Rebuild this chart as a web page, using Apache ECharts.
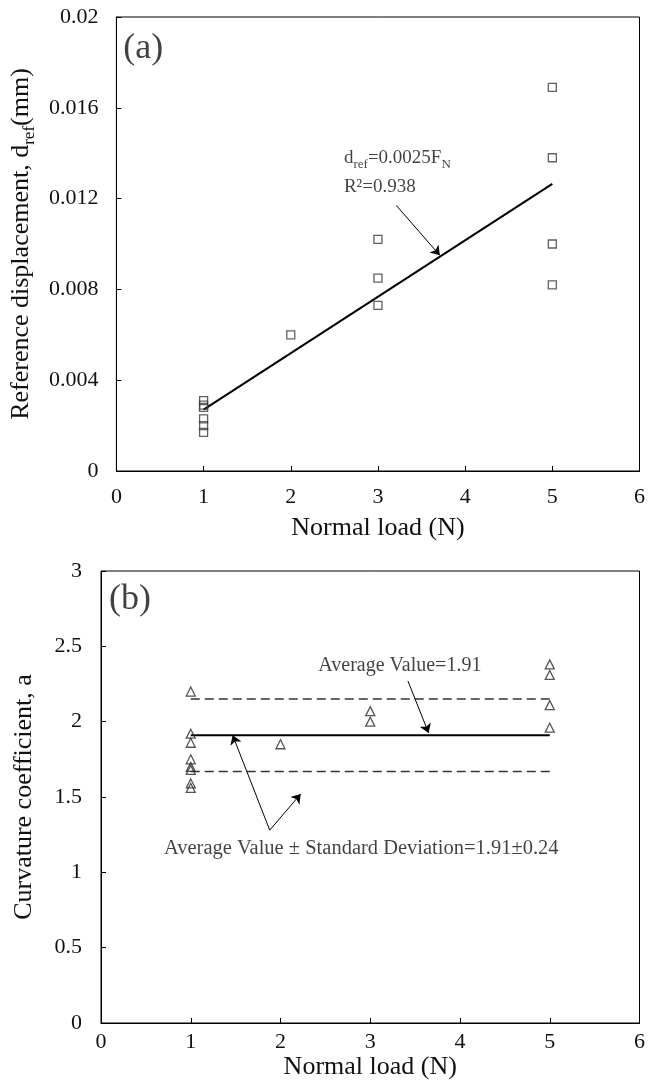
<!DOCTYPE html>
<html><head><meta charset="utf-8">
<script src="https://cdn.jsdelivr.net/npm/echarts@6/dist/echarts.min.js"></script>
<style>html,body{margin:0;padding:0;background:#fff}#c{width:648px;height:1091px}</style>
</head><body><div id="c"></div>
<script>
// ---------- Panel (a) data ----------
const loadA = [1, 1, 1, 1, 1, 1, 2, 3, 3, 3, 5, 5, 5, 5];
const dispA = [0.0031, 0.0029, 0.0028, 0.0023, 0.0020, 0.0017, 0.0060, 0.0102, 0.0085, 0.0073, 0.0169, 0.0138, 0.0100, 0.0082];
const fitLoadA = [1, 5];
const fitDispA = [0.0027, 0.01265];
const xTickLabels = ['0', '1', '2', '3', '4', '5', '6'];
const yTickLabelsA = ['0', '0.004', '0.008', '0.012', '0.016', '0.02'];
// ---------- Panel (b) data ----------
const loadB = [1, 1, 1, 1, 1, 1, 1, 1, 2, 3, 3, 5, 5, 5, 5];
const coefB = [2.20, 1.92, 1.86, 1.75, 1.70, 1.68, 1.59, 1.56, 1.85, 2.07, 2.00, 2.38, 2.31, 2.11, 1.96];
const refLoadB = [1, 5];
const avgLineB = [1.91, 1.91];
const upperLineB = [2.15, 2.15];
const lowerLineB = [1.67, 1.67];
const yTickLabelsB = ['0', '0.5', '1', '1.5', '2', '2.5', '3'];
// ---------- annotations (data units) ----------
const notesA = [
  {text: '{d|d}{s|ref}{d|=0.0025F}{s|N}', x: 2.61, y: 0.0138, pos: 'right', size: 19},
  {text: 'R²=0.938', x: 2.61, y: 0.0125, pos: 'right', size: 19},
  {text: '(a)', x: 0.08, y: 0.0186, pos: 'right', size: 36}
];
const arrowsA = [[3.21, 0.0117, 3.71, 0.0095]];
const notesB = [
  {text: 'Average Value=1.91', x: 3.33, y: 2.37, pos: 'inside', size: 20},
  {text: 'Average Value ± Standard Deviation=1.91±0.24', x: 2.9, y: 1.16, pos: 'inside', size: 20.5},
  {text: '(b)', x: 0.09, y: 2.81, pos: 'right', size: 36}
];
const arrowsB = [[3.42, 2.27, 3.65, 1.925], [1.88, 1.28, 1.467, 1.91], [1.88, 1.28, 2.225, 1.52]];

const FONT = '"Liberation Serif", "Times New Roman", serif';
const TXT = '#111';
const zip = (a, b) => a.map((v, i) => [v, b[i]]);

function xAxisCfg(gridIndex, labelMargin, nameGap) {
  return {
    gridIndex, type: 'value', min: 0, max: 6, interval: 1,
    name: 'Normal load (N)', nameLocation: 'middle', nameGap,
    nameTextStyle: {fontFamily: FONT, fontSize: 26, color: TXT, lineHeight: 26},
    axisLine: {show: true, lineStyle: {color: '#000', width: 1}},
    axisTick: {show: true, inside: true, length: 5, lineStyle: {color: '#000'}},
    axisLabel: {fontFamily: FONT, fontSize: 22, color: TXT, margin: labelMargin, lineHeight: 22,
      formatter: v => xTickLabels[Math.round(v)]},
    splitLine: {show: false}
  };
}

function notesSeries(xi, yi, notes, arrows) {
  return {
    type: 'scatter', xAxisIndex: xi, yAxisIndex: yi, symbolSize: 0, silent: true, z: 10,
    data: notes.map(n => ({
      value: [n.x, n.y],
      label: {show: true, position: n.pos, distance: 0, formatter: n.text,
        fontFamily: FONT, fontSize: n.size, color: TXT,
        rich: {
          d: {fontFamily: FONT, fontSize: n.size, color: TXT, lineHeight: 26},
          s: {fontFamily: FONT, fontSize: 13, color: TXT, lineHeight: 13, verticalAlign: 'bottom'}
        }}
    })),
    markLine: {
      silent: true, animation: false, symbol: ['none', 'arrow'], symbolSize: 9,
      label: {show: false},
      lineStyle: {color: '#000', width: 1, type: 'solid'},
      data: arrows.map(a => [{coord: [a[0], a[1]]}, {coord: [a[2], a[3]]}])
    }
  };
}

const chart = echarts.init(document.getElementById('c'), null, {renderer: 'canvas'});
chart.setOption({
  animation: false,
  backgroundColor: '#fff',
  grid: [
    {left: 113, top: 17, width: 528, height: 454, show: true, borderColor: '#000', borderWidth: 1},
    {left: 101, top: 571, width: 541, height: 452, show: true, borderColor: '#000', borderWidth: 1}
  ],
  xAxis: [xAxisCfg(0, 15, 44), xAxisCfg(1, 8, 25)],
  yAxis: [
    {
      gridIndex: 0, type: 'value', min: 0, max: 0.02, interval: 0.004,
      name: '{m|Reference displacement, d}{s|ref}{m|(mm)}', nameLocation: 'middle', nameGap: 71, nameRotate: 90,
      nameTextStyle: {fontFamily: FONT, fontSize: 26, color: TXT,
        rich: {
          m: {fontFamily: FONT, fontSize: 26, color: TXT, lineHeight: 34},
          s: {fontFamily: FONT, fontSize: 17, color: TXT, lineHeight: 17, verticalAlign: 'bottom'}
        }},
      axisLine: {show: true, lineStyle: {color: '#000', width: 1}},
      axisTick: {show: true, inside: true, length: 5, lineStyle: {color: '#000'}},
      axisLabel: {fontFamily: FONT, fontSize: 22, color: TXT, margin: 18,
        formatter: v => yTickLabelsA[Math.round(v / 0.004)]},
      splitLine: {show: false}
    },
    {
      gridIndex: 1, type: 'value', min: 0, max: 3, interval: 0.5,
      name: 'Curvature coefficient, a', nameLocation: 'middle', nameGap: 64, nameRotate: 90,
      nameTextStyle: {fontFamily: FONT, fontSize: 26, color: TXT, lineHeight: 26},
      axisLine: {show: true, lineStyle: {color: '#000', width: 1}},
      axisTick: {show: true, inside: true, length: 5, lineStyle: {color: '#000'}},
      axisLabel: {fontFamily: FONT, fontSize: 22, color: TXT, margin: 19,
        formatter: v => yTickLabelsB[Math.round(v / 0.5)]},
      splitLine: {show: false}
    }
  ],
  series: [
    {
      name: 'fitA', type: 'line', xAxisIndex: 0, yAxisIndex: 0, data: zip(fitLoadA, fitDispA),
      showSymbol: false, symbol: 'none', lineStyle: {color: '#000', width: 2}, silent: true, z: 2
    },
    {
      name: 'dataA', type: 'scatter', xAxisIndex: 0, yAxisIndex: 0, data: zip(loadA, dispA),
      symbol: 'rect', symbolSize: 8,
      itemStyle: {color: 'rgba(0,0,0,0)', borderColor: '#3a3a3a', borderWidth: 1.3}, z: 3
    },
    notesSeries(0, 0, notesA, arrowsA),
    {
      name: 'avgB', type: 'line', xAxisIndex: 1, yAxisIndex: 1, data: zip(refLoadB, avgLineB),
      symbol: 'none', lineStyle: {color: '#000', width: 2}, silent: true, z: 2
    },
    {
      name: 'upperB', type: 'line', xAxisIndex: 1, yAxisIndex: 1, data: zip(refLoadB, upperLineB),
      symbol: 'none', lineStyle: {color: '#333', width: 1.5, type: [9, 5]}, silent: true, z: 2
    },
    {
      name: 'lowerB', type: 'line', xAxisIndex: 1, yAxisIndex: 1, data: zip(refLoadB, lowerLineB),
      symbol: 'none', lineStyle: {color: '#333', width: 1.5, type: [9, 5]}, silent: true, z: 2
    },
    {
      name: 'dataB', type: 'scatter', xAxisIndex: 1, yAxisIndex: 1, data: zip(loadB, coefB),
      symbol: 'triangle', symbolSize: 9,
      itemStyle: {color: 'rgba(0,0,0,0)', borderColor: '#2a2a2a', borderWidth: 1.3}, z: 3
    },
    notesSeries(1, 1, notesB, arrowsB)
  ]
});
</script>
</body></html>
